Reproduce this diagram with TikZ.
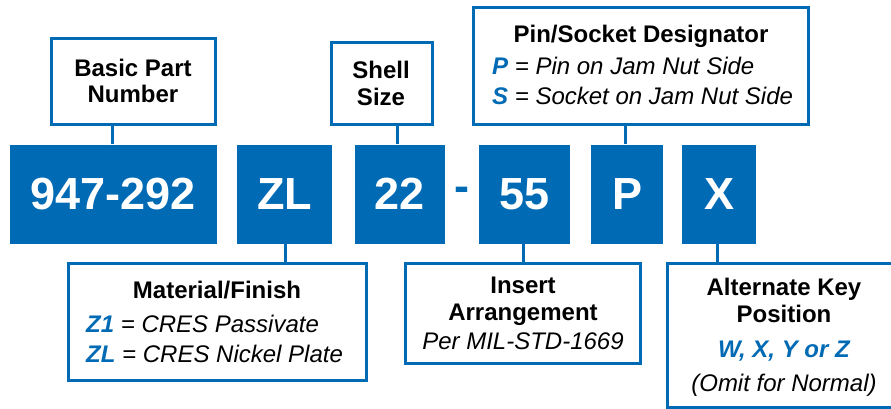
\documentclass[tikz,border=0pt]{standalone}
\usepackage{fontspec}
\setmainfont{Liberation Sans}
\definecolor{gblue}{RGB}{0,106,180}
\tikzset{
 lbl/.style={draw=gblue, line width=3pt, fill=white, inner sep=0pt},
 code/.style={fill=gblue, inner sep=0pt, text=white, font=\fontsize{45}{50}\selectfont\bfseries},
 ttl/.style={anchor=base, inner sep=0pt, font=\fontsize{24}{28}\selectfont\bfseries},
 itl/.style={anchor=base, inner sep=0pt, font=\fontsize{24}{28}\selectfont\itshape},
 link/.style={draw=gblue, line width=3pt},
}
\newcommand{\bl}[1]{\textcolor{gblue}{\bfseries #1}}
\begin{document}
\begin{tikzpicture}[x=1pt,y=-1pt]
\path[use as bounding box, fill=white] (0,0) rectangle (891,409);
% code boxes
\node[code, minimum width=206.5, minimum height=99] (n947) at (113.25,194) {947-292};
\node[code, minimum width=95, minimum height=99] (nzl) at (284.5,194) {ZL};
\node[code, minimum width=90, minimum height=99] (n22) at (400,194) {22};
\node[inner sep=0pt, font=\fontsize{45}{50}\selectfont\bfseries, text=gblue] (dash) at (462,194) {-};
\node[code, minimum width=91, minimum height=99] (n55) at (524.5,194) {55};
\node[code, minimum width=72, minimum height=99] (np) at (627,194) {P};
\node[code, minimum width=74, minimum height=99] (nx) at (719,194) {X};
% label boxes
\node[lbl, minimum width=164, minimum height=86] (basic) at (133,81.5) {};
\node[lbl, minimum width=101, minimum height=82] (shell) at (382,83.5) {};
\node[lbl, minimum width=335, minimum height=117] (pin) at (641,66) {};
\node[lbl, minimum width=298, minimum height=117] (mat) at (217.5,322) {};
\node[lbl, minimum width=235, minimum height=100] (ins) at (523,313.5) {};
\node[lbl, minimum width=270, minimum height=144] (alt) at (802.5,335.5) {};
% connectors
\draw[link] (n947.north -| 112,0) -- (basic.south -| 112,0);
\draw[link] (n22.north -| 397,0) -- (shell.south -| 397,0);
\draw[link] (np.north -| 625,0) -- (pin.south -| 625,0);
\draw[link] (nzl.south -| 285,0) -- (mat.north -| 285,0);
\draw[link] (n55.south -| 523,0) -- (ins.north -| 523,0);
\draw[link] (nx.south -| 717,0) -- (alt.north -| 717,0);
% texts
\node[ttl] (t1a) at (133,77) {Basic Part};
\node[ttl] (t1b) at (133,103) {Number};
\node[ttl] (t2a) at (381,79) {Shell};
\node[ttl] (t2b) at (381,106) {Size};
\node[ttl] (t3a) at (641,43) {Pin/Socket Designator};
\node[itl, anchor=base west] (t3b) at (492,75) {\bl{P} = Pin on Jam Nut Side};
\node[itl, anchor=base west] (t3c) at (492,105) {\bl{S} = Socket on Jam Nut Side};
\node[ttl] (t4a) at (217,298) {Material/Finish};
\node[itl, anchor=base west] (t4b) at (86,332) {\bl{Z1} = CRES Passivate};
\node[itl, anchor=base west] (t4c) at (86,362) {\bl{ZL} = CRES Nickel Plate};
\node[ttl] (t5a) at (523,293) {Insert};
\node[ttl] (t5b) at (523,320) {Arrangement};
\node[itl] (t5c) at (523,349) {Per MIL-STD-1669};
\node[ttl] (t6a) at (784,295) {Alternate Key};
\node[ttl] (t6b) at (784,322) {Position};
\node[itl] (t6c) at (784,357) {\bl{W, X, Y or Z}};
\node[itl] (t6d) at (784,391) {(Omit for Normal)};
\end{tikzpicture}
\end{document}
